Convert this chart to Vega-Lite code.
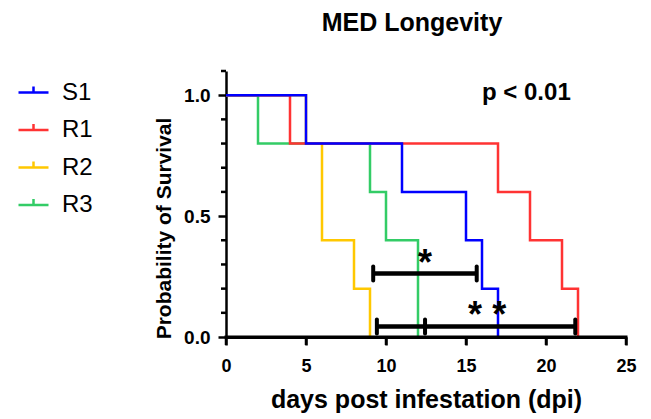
{
  "$schema": "https://vega.github.io/schema/vega-lite/v6.json",
  "width": 400,
  "height": 266,
  "autosize": "none",
  "padding": {"left": 226, "top": 71, "right": 25, "bottom": 82},
  "background": "white",
  "config": {
    "view": {"stroke": null},
    "font": "Liberation Sans",
    "axis": {"grid": false, "domainColor": "black", "tickColor": "black", "labelColor": "black", "titleColor": "black", "domainWidth": 2.5, "tickWidth": 2.5, "labelFont": "Liberation Sans", "titleFont": "Liberation Sans"}
  },
  "title": {"text": "MED Longevity", "fontSize": 25, "fontWeight": "bold", "font": "Liberation Sans", "color": "black", "anchor": "middle", "frame": "group", "baseline": "alphabetic", "offset": 14, "dx": -14},
  "datasets": {
    "surv": [
      {"group": "S1", "day": 0, "p": 1.0}, {"group": "S1", "day": 5, "p": 0.8}, {"group": "S1", "day": 11, "p": 0.6}, {"group": "S1", "day": 15, "p": 0.4}, {"group": "S1", "day": 16, "p": 0.2}, {"group": "S1", "day": 17, "p": 0.0},
      {"group": "R1", "day": 0, "p": 1.0}, {"group": "R1", "day": 4, "p": 0.8}, {"group": "R1", "day": 17, "p": 0.6}, {"group": "R1", "day": 19, "p": 0.4}, {"group": "R1", "day": 21, "p": 0.2}, {"group": "R1", "day": 22, "p": 0.0},
      {"group": "R2", "day": 0, "p": 1.0}, {"group": "R2", "day": 5, "p": 0.8}, {"group": "R2", "day": 6, "p": 0.4}, {"group": "R2", "day": 8, "p": 0.2}, {"group": "R2", "day": 9, "p": 0.0},
      {"group": "R3", "day": 0, "p": 1.0}, {"group": "R3", "day": 2, "p": 0.8}, {"group": "R3", "day": 9, "p": 0.6}, {"group": "R3", "day": 10, "p": 0.4}, {"group": "R3", "day": 12, "p": 0.0}
    ],
    "bars": [
      {"day": 9.2, "day2": 15.67, "p": 0.263},
      {"day": 9.43, "day2": 21.83, "p": 0.043}
    ],
    "caps": [
      {"day": 9.2, "p": 0.263}, {"day": 15.67, "p": 0.263},
      {"day": 9.43, "p": 0.043}, {"day": 12.44, "p": 0.043}, {"day": 21.83, "p": 0.043}
    ],
    "stars": [
      {"day": 12.44, "p": 0.256, "label": "*"},
      {"day": 15.56, "p": 0.043, "label": "*"},
      {"day": 17.08, "p": 0.043, "label": "*"}
    ],
    "pval": [{"day": 16, "p": 0.98, "label": "p < 0.01"}],
    "xticks": [{"day": 0}, {"day": 5}, {"day": 10}, {"day": 15}, {"day": 20}, {"day": 25}],
    "yminor": [{"p": 0.1}, {"p": 0.2}, {"p": 0.3}, {"p": 0.4}, {"p": 0.6}, {"p": 0.7}, {"p": 0.8}, {"p": 0.9}, {"p": 1.1}],
    "base": [{"day": 0, "day2": 25, "p": 0}]
  },
  "layer": [
    {
      "data": {"name": "surv"},
      "transform": [{"filter": "datum.group === 'R2'"}],
      "mark": {"type": "line", "interpolate": "step-after", "strokeWidth": 2.5},
      "encoding": {
        "x": {"field": "day", "type": "quantitative", "scale": {"domain": [0, 25], "nice": false, "zero": false},
              "axis": {"title": "days post infestation (dpi)", "values": [0, 5, 10, 15, 20, 25], "tickSize": 8, "domainWidth": 3, "labelFontSize": 18, "labelFontWeight": "bold", "labelPadding": 12, "titleFontSize": 25, "titleFontWeight": "bold", "titleY": 70, "titleBaseline": "alphabetic", "labelFlush": false, "orient": "bottom"}},
        "y": {"field": "p", "type": "quantitative", "scale": {"domain": [0, 1.1], "nice": false},
              "axis": {"values": [0, 0.5, 1.0], "format": ".1f", "tickSize": 8, "labelFontSize": 19, "labelFontWeight": "bold", "labelPadding": 8, "labelOverlap": false, "orient": "left", "title": "Probability of Survival", "titleFontSize": 21, "titleFontWeight": "bold", "titleX": -56, "titleY": 157, "titleBaseline": "alphabetic", "titleAlign": "center", "titleAngle": -90}},
        "color": {"field": "group", "type": "nominal",
                  "scale": {"domain": ["S1", "R1", "R2", "R3"], "range": ["#0000FF", "#FF3333", "#FFC800", "#33CC66"]},
                  "legend": {"title": null, "orient": "none", "legendX": -209, "legendY": 5, "padding": 0, "symbolType": "M-1,0H1M0,0V-0.4", "symbolSize": 900, "symbolStrokeWidth": 2.5, "symbolFillColor": "transparent", "labelFontSize": 24, "labelFont": "Liberation Sans", "labelColor": "black", "labelOffset": 12, "rowPadding": 8.5}}
      }
    },
    {
      "data": {"name": "surv"},
      "transform": [{"filter": "datum.group === 'R3'"}],
      "mark": {"type": "line", "interpolate": "step-after", "strokeWidth": 2.5},
      "encoding": {
        "x": {"field": "day", "type": "quantitative"},
        "y": {"field": "p", "type": "quantitative"},
        "color": {"field": "group", "type": "nominal"}
      }
    },
    {
      "data": {"name": "surv"},
      "transform": [{"filter": "datum.group === 'R1'"}],
      "mark": {"type": "line", "interpolate": "step-after", "strokeWidth": 2.5},
      "encoding": {
        "x": {"field": "day", "type": "quantitative"},
        "y": {"field": "p", "type": "quantitative"},
        "color": {"field": "group", "type": "nominal"}
      }
    },
    {
      "data": {"name": "surv"},
      "transform": [{"filter": "datum.group === 'S1'"}],
      "mark": {"type": "line", "interpolate": "step-after", "strokeWidth": 2.5},
      "encoding": {
        "x": {"field": "day", "type": "quantitative"},
        "y": {"field": "p", "type": "quantitative"},
        "color": {"field": "group", "type": "nominal"}
      }
    },
    {
      "data": {"name": "base"},
      "mark": {"type": "rule", "color": "black", "strokeWidth": 3, "strokeCap": "square", "clip": false},
      "encoding": {
        "x": {"field": "day", "type": "quantitative"},
        "x2": {"field": "day2"},
        "y": {"field": "p", "type": "quantitative"}
      }
    },
    {
      "data": {"name": "xticks"},
      "mark": {"type": "rule", "color": "black", "strokeWidth": 2.5, "clip": false},
      "encoding": {
        "x": {"field": "day", "type": "quantitative"},
        "y": {"datum": 0, "type": "quantitative"},
        "y2": {"datum": -0.033}
      }
    },
    {
      "data": {"name": "yminor"},
      "mark": {"type": "rule", "color": "black", "strokeWidth": 2.5, "clip": false},
      "encoding": {
        "y": {"field": "p", "type": "quantitative"},
        "x": {"datum": 0, "type": "quantitative"},
        "x2": {"datum": -0.3125}
      }
    },
    {
      "data": {"name": "bars"},
      "mark": {"type": "rule", "color": "black", "strokeWidth": 4.5},
      "encoding": {
        "x": {"field": "day", "type": "quantitative"},
        "x2": {"field": "day2"},
        "y": {"field": "p", "type": "quantitative"}
      }
    },
    {
      "data": {"name": "caps"},
      "mark": {"type": "tick", "orient": "vertical", "color": "black", "size": 18, "thickness": 4, "cornerRadius": 2, "opacity": 1},
      "encoding": {
        "x": {"field": "day", "type": "quantitative"},
        "y": {"field": "p", "type": "quantitative"}
      }
    },
    {
      "data": {"name": "stars"},
      "mark": {"type": "text", "fontSize": 36, "fontWeight": "bold", "font": "Liberation Sans", "color": "black", "baseline": "alphabetic", "align": "center"},
      "encoding": {
        "x": {"field": "day", "type": "quantitative"},
        "y": {"field": "p", "type": "quantitative"},
        "text": {"field": "label"}
      }
    },
    {
      "data": {"name": "pval"},
      "mark": {"type": "text", "fontSize": 24, "fontWeight": "bold", "font": "Liberation Sans", "color": "black", "baseline": "alphabetic", "align": "left"},
      "encoding": {
        "x": {"field": "day", "type": "quantitative"},
        "y": {"field": "p", "type": "quantitative"},
        "text": {"field": "label"}
      }
    }
  ]
}
